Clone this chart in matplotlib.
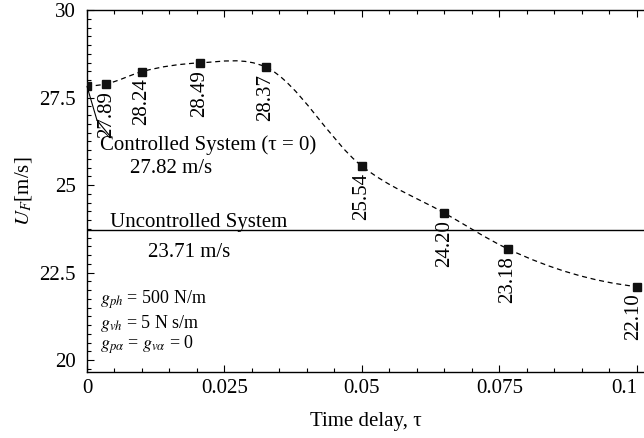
import numpy as np
import matplotlib
matplotlib.use('Agg')
import matplotlib.pyplot as plt
import matplotlib.transforms as mtransforms
from matplotlib.path import Path
from matplotlib.patches import PathPatch
from matplotlib.ticker import MultipleLocator

plt.rcParams['font.family'] = ['Liberation Serif', 'DejaVu Serif']
plt.rcParams['mathtext.fontset'] = 'stix'

# flutter speed vs time delay
tau = [0, 0.0035, 0.01, 0.0205, 0.0325, 0.05, 0.065, 0.0765, 0.1]
uf = [27.82, 27.89, 28.24, 28.49, 28.37, 25.54, 24.20, 23.18, 22.10]
u_uncontrolled = 23.71

x_ticks = [0, 0.025, 0.05, 0.075, 0.1]
x_ticklabels = ['0', '0.025', '0.05', '0.075', '0.1']
y_ticks = [20, 22.5, 25, 27.5, 30]
y_ticklabels = ['20', '22.5', '25', '27.5', '30']

fig = plt.figure(figsize=(6.44, 4.38), dpi=100)
ax = fig.add_axes([87/644, 66/438, 557/644, 362/438])

# smooth dashed curve through the points: cubic hermite segments as bezier
x = np.array(tau)
y = np.array(uf)
h = np.diff(x)
d = np.diff(y) / h
m = np.zeros_like(y)
for i in range(1, len(x) - 1):
    m[i] = (h[i - 1] * d[i] + h[i] * d[i - 1]) / (h[i - 1] + h[i])
m[0] = ((2 * h[0] + h[1]) * d[0] - h[0] * d[1]) / (h[0] + h[1])
m[-1] = ((2 * h[-1] + h[-2]) * d[-1] - h[-1] * d[-2]) / (h[-1] + h[-2])
verts = [(x[0], y[0])]
codes = [Path.MOVETO]
for i in range(len(x) - 1):
    verts += [(x[i] + h[i] / 3, y[i] + m[i] * h[i] / 3),
              (x[i + 1] - h[i] / 3, y[i + 1] - m[i + 1] * h[i] / 3),
              (x[i + 1], y[i + 1])]
    codes += [Path.CURVE4] * 3
curve = PathPatch(Path(verts, codes), fill=False, edgecolor='black',
                  lw=0.9, ls=(0, (4, 3)), transform=ax.transData)
ax.add_patch(curve)

ax.plot(tau, uf, 's', color='#111111', ms=5.5, zorder=3)
ax.axhline(u_uncontrolled, color='black', lw=1.0)

# rotated value labels below each point (except tau = 0)
for k, (t, u) in enumerate(zip(tau[1:], uf[1:])):
    dx = -3 if k == len(tau) - 2 else 0
    ax.annotate('%.2f' % u, xy=(t, u), xytext=(dx, -7), textcoords='offset pixels',
                rotation=90, ha='center', va='top', fontsize=15)

# leader line for the controlled system point
kink = mtransforms.offset_copy(ax.transData, fig=fig, x=10, y=-34, units='dots')
ax.annotate('', xy=(tau[0], uf[0]), xytext=(tau[0], uf[0]), textcoords=kink,
            arrowprops=dict(arrowstyle='-', lw=0.8, shrinkA=0, shrinkB=0))
ax.annotate('', xy=(tau[0], uf[0]), xycoords=kink, xytext=(14, -17),
            textcoords='offset pixels',
            arrowprops=dict(arrowstyle='-', lw=0.8, shrinkA=0, shrinkB=0))

ax.text(0.023, 0.627, 'Controlled System (\u03c4 = 0)', transform=ax.transAxes,
        fontsize=15, va='center', ha='left')
ax.text(0.077, 0.5635, '%.2f m/s' % uf[0], transform=ax.transAxes,
        fontsize=15, va='center', ha='left')
ax.text(0.041, 0.414, 'Uncontrolled System', transform=ax.transAxes,
        fontsize=15, va='center', ha='left')
ax.text(0.1095, 0.331, '%.2f m/s' % u_uncontrolled, transform=ax.transAxes,
        fontsize=15, va='center', ha='left')

ax.text(0.023, 0.199, r'$g_{ph}$ = 500 N/m', transform=ax.transAxes,
        fontsize=13, va='center', ha='left')
ax.text(0.023, 0.135, r'$g_{vh}$ = 5 N s/m', transform=ax.transAxes,
        fontsize=13, va='center', ha='left')
ax.text(0.023, 0.075, r'$g_{p\alpha}$ = $g_{v\alpha}$ = 0', transform=ax.transAxes,
        fontsize=13, va='center', ha='left')

ax.set_xlim(0, 0.1013)
ax.set_ylim(19.66, 30)
ax.set_xticks(x_ticks)
ax.set_xticklabels(x_ticklabels)
ax.get_xticklabels()[-1].set_horizontalalignment('right')
ax.set_yticks(y_ticks)
ax.set_yticklabels(y_ticklabels)
ax.xaxis.set_minor_locator(MultipleLocator(0.005))
ax.yaxis.set_minor_locator(MultipleLocator(0.25))
ax.tick_params(which='both', direction='in', top=True, right=False, width=0.8)
ax.tick_params(which='major', length=5, labelsize=15)
ax.tick_params(which='minor', length=3)
ax.tick_params(axis='y', pad=8)
ax.tick_params(axis='x', pad=5)
ax.spines['right'].set_visible(False)
for s in ['left', 'bottom', 'top']:
    ax.spines[s].set_linewidth(1.0)

ax.set_xlabel('Time delay, \u03c4', fontsize=15, labelpad=10)
ax.set_ylabel(r'$U_F$[m/s]', fontsize=15, labelpad=4)

fig.savefig('out.png', dpi=100)
